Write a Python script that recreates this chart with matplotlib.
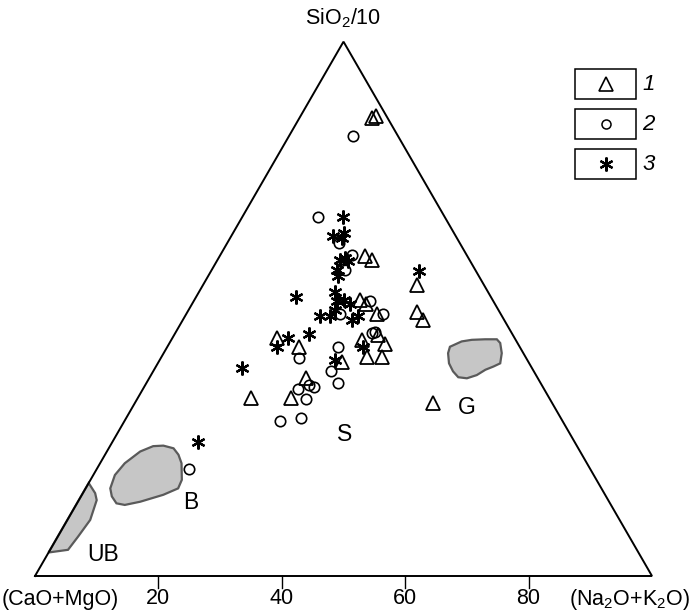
import numpy as np
import matplotlib.pyplot as plt
from matplotlib.patches import Polygon, Rectangle

plt.rcParams['font.family'] = ['Liberation Sans', 'DejaVu Sans']
plt.rcParams['mathtext.fontset'] = 'custom'
plt.rcParams['mathtext.rm'] = 'Liberation Sans'
plt.rcParams['mathtext.it'] = 'Liberation Sans:italic'

# composizioni in % : SiO2/10 (vertice) e Na2O+K2O (destra), il resto CaO+MgO
# gruppo 1 - triangoli
si_1 = [85.7, 86.0, 59.9, 59.2, 54.5, 51.6, 50.9, 49.1, 49.5, 47.9, 44.6,
        42.9, 44.2, 45.1, 43.4, 40.1, 40.9, 40.9, 37.1, 33.3, 33.3, 32.4]
na_1 = [11.7, 12.2, 23.5, 25.1, 34.6, 26.9, 28.2, 30.9, 37.1, 38.9, 16.9,
        21.4, 30.9, 33.0, 35.1, 29.7, 33.4, 35.8, 25.3, 24.9, 18.3, 48.3]

# gruppo 2 - cerchi
si_2 = [82.4, 67.1, 62.4, 60.1, 57.3, 51.5, 49.1, 49.1, 45.5, 45.7, 42.9,
        40.8, 38.3, 36.2, 35.0, 35.8, 35.4, 33.1, 29.0, 29.6, 20.0]
na_2 = [10.4, 12.3, 18.1, 21.3, 21.6, 28.6, 31.8, 24.9, 31.8, 32.3, 27.7,
        22.4, 28.8, 31.0, 25.1, 26.5, 27.5, 27.3, 25.2, 28.3, 14.9]

# gruppo 3 - asterischi
si_3 = [67.1, 63.7, 64.2, 63.3, 59.2, 59.6, 58.9, 57.3, 56.2, 57.1, 52.3,
        53.2, 51.4, 51.6, 50.9, 49.8, 48.6, 48.7, 47.9, 48.6, 44.6, 45.3,
        42.9, 42.9, 40.4, 39.0, 25.1]
na_3 = [16.3, 16.5, 18.0, 18.1, 19.9, 20.5, 21.3, 20.3, 21.0, 33.7, 16.2,
        22.0, 23.2, 24.3, 25.6, 23.7, 21.9, 23.5, 27.4, 28.1, 18.7, 21.8,
        17.8, 31.7, 28.4, 14.0, 13.9]

# campi di riferimento
ub_si = [4.4, 4.9, 7.4, 10.5, 14.2, 15.5, 17.4]
ub_na = [0.0, 2.9, 3.3, 3.7, 2.9, 2.0, 0.0]
b_si = [14.9, 13.6, 13.3, 13.9, 15.2, 16.4, 18.0, 21.1, 22.7, 23.9, 24.4,
        24.3, 23.3, 21.1, 18.9, 16.4]
b_na = [5.0, 6.4, 7.9, 10.1, 13.2, 15.0, 14.8, 13.2, 11.9, 10.5, 8.6,
        7.0, 5.4, 4.0, 3.5, 4.0]
g_si = [42.9, 43.9, 44.2, 44.3, 44.3, 43.6, 41.7, 39.8, 39.2, 38.6, 37.6,
        37.0, 37.2, 38.3, 39.8, 41.7]
g_na = [45.8, 47.2, 48.7, 50.8, 52.7, 53.6, 54.8, 55.5, 54.7, 53.7, 52.8,
        51.5, 50.0, 48.6, 47.2, 46.1]

tick_vals = [20, 40, 60, 80]
legend_labels = ['1', '2', '3']


def tern(si, na):
    si = np.asarray(si) / 100.0
    na = np.asarray(na) / 100.0
    return na + si / 2, si * np.sqrt(3) / 2


px = 1 / 617.0  # un pixel in unita' del triangolo

fig = plt.figure(figsize=(6.91, 6.10), dpi=100)
ax = fig.add_axes([0, 0, 1, 1])
ax.set_xlim(-35 * px, 656 * px)
ax.set_ylim(-34 * px, 576 * px)
ax.axis('off')

# triangolo
ax.plot([0, 1, 0.5, 0], [0, 0, np.sqrt(3) / 2, 0], color='k', lw=1.4,
        solid_joinstyle='miter')

# campi
for s, n in [(ub_si, ub_na), (b_si, b_na), (g_si, g_na)]:
    x, y = tern(s, n)
    ax.add_patch(Polygon(np.column_stack([x, y]), closed=True,
                         facecolor='#c6c6c6', edgecolor='#5a5a5a', lw=1.6))

# tacche asse inferiore
for v in tick_vals:
    ax.plot([v / 100, v / 100], [0, -12 * px], color='k', lw=1)
    ax.text(v / 100, -23 * px, str(v), ha='center', va='center', fontsize=15.5)

ax.text(-33 * px, -23 * px, '(CaO+MgO)', ha='left', va='center', fontsize=15.5)
ax.text(655 * px, -23 * px, '(Na$_2$O+K$_2$O)', ha='right', va='center',
        fontsize=15.5)
ax.text(0.5, 558 * px, 'SiO$_2$/10', ha='center', va='center', fontsize=15.5)

# punti
x, y = tern(si_1, na_1)
ax.plot(x, y, '^', ms=10.5, mfc='none', mec='k', mew=1.3)
x, y = tern(si_2, na_2)
ax.plot(x, y, 'o', ms=7.5, mfc='none', mec='k', mew=1.2)
x, y = tern(si_3, na_3)
ax.plot(x, y, ls='none', marker=(6, 2, 0), ms=10, mec='k', mew=1.6)

# etichette campi
for lab, s, n in [('S', 26.4, 37.0), ('G', 31.5, 54.3),
                  ('B', 13.8, 18.4), ('UB', 4.1, 9.0)]:
    x, y = tern(s, n)
    ax.text(x, y, lab, ha='center', va='center', fontsize=16.5)

# legenda
markers = [dict(marker='^', ms=10, mfc='none', mec='k', mew=1.2),
           dict(marker='o', ms=6.5, mfc='none', mec='k', mew=1.1),
           dict(marker=(6, 2, 0), ms=10, mec='k', mew=1.6)]
tops = [69, 109, 149]
for lab, mk, t in zip(legend_labels, markers, tops):
    ax.add_patch(Rectangle((575 / 691, 1 - (t + 30) / 610), 61 / 691, 30 / 610,
                           transform=ax.transAxes, fill=False, ec='k', lw=1.1))
    ax.plot([605.5 / 691], [1 - (t + 15) / 610], transform=ax.transAxes,
            ls='none', **mk)
    ax.text(642 / 691, 1 - (t + 15) / 610, lab, transform=ax.transAxes,
            ha='left', va='center', fontsize=16, style='italic')

fig.savefig('out.png', dpi=100)
